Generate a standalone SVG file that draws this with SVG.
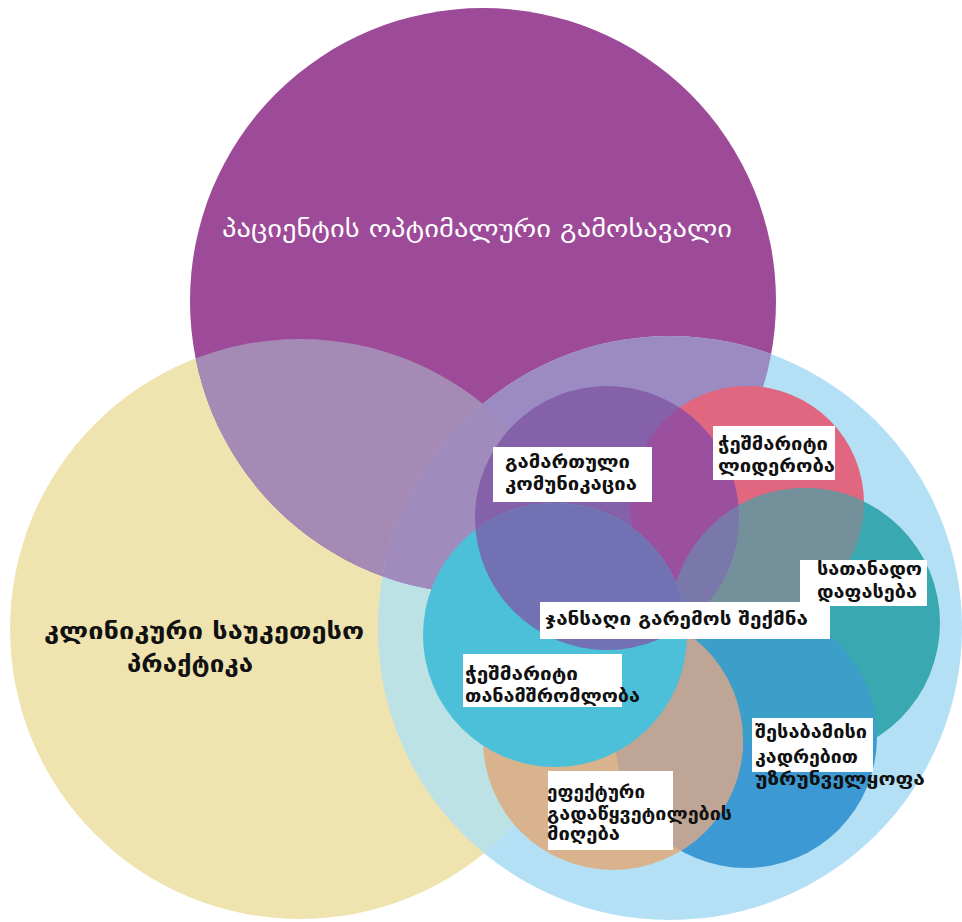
<svg xmlns="http://www.w3.org/2000/svg" width="962" height="922" viewBox="0 0 962 922">
  <defs>
    <style>
      .lbl { font-family: "DejaVu Sans", "Noto Sans Georgian", sans-serif; font-weight: bold; font-size: 17px; fill: #111; }
      .big { font-family: "DejaVu Sans", "Noto Sans Georgian", sans-serif; font-size: 24px; }
      .box { fill: #ffffff; }
    </style>
    <clipPath id="cY"><circle cx="300" cy="629" r="290"/></clipPath>
    <clipPath id="cP"><circle cx="483" cy="301" r="293"/></clipPath>
    <clipPath id="cL"><circle cx="670" cy="628" r="292"/></clipPath>
    <clipPath id="cC1"><circle cx="607" cy="518" r="132"/></clipPath>
    <clipPath id="cC2"><circle cx="747" cy="503" r="117"/></clipPath>
    <clipPath id="cC3"><circle cx="805" cy="623" r="135"/></clipPath>
    <clipPath id="cC4"><circle cx="555" cy="635" r="132"/></clipPath>
    <clipPath id="cC5"><circle cx="746" cy="737" r="131"/></clipPath>
    <clipPath id="cC6"><circle cx="613" cy="740" r="130"/></clipPath>
  </defs>

  <rect width="962" height="922" fill="#ffffff"/>

  <!-- clinical best practice -->
  <g id="practice">
    <circle cx="300" cy="629" r="290" fill="#efe4b0"/>
  </g>

  <!-- optimal patient outcome -->
  <g id="outcome">
    <circle cx="483" cy="301" r="293" fill="#9d4a98"/>
  </g>

  <!-- healthy work environment ring -->
  <g id="environment">
    <circle cx="670" cy="628" r="292" fill="#b4e0f5"/>
  </g>

  <!-- tinted overlaps of the three large circles -->
  <g id="outer-overlaps">
    <circle cx="483" cy="301" r="293" fill="#a58ab5" clip-path="url(#cY)"/>
    <circle cx="670" cy="628" r="292" fill="#bde2e6" clip-path="url(#cY)"/>
    <circle cx="670" cy="628" r="292" fill="#9b8bc2" clip-path="url(#cP)"/>
    <g clip-path="url(#cY)">
      <circle cx="670" cy="628" r="292" fill="#a08bbd" clip-path="url(#cP)"/>
    </g>
  </g>

  <!-- six standards -->
  <g id="leadership"><circle cx="747" cy="503" r="117" fill="#e1667f"/></g>
  <g id="communication"><circle cx="607" cy="518" r="132" fill="#8461a8"/></g>
  <g id="recognition"><circle cx="805" cy="623" r="135" fill="#3aa8b1"/></g>
  <g id="staffing"><circle cx="746" cy="737" r="131" fill="#3c99d3"/></g>
  <g id="decision"><circle cx="613" cy="740" r="130" fill="#d8b38e"/></g>

  <g id="inner-overlaps-a">
    <circle cx="747" cy="503" r="117" fill="#9a4f9f" clip-path="url(#cC1)"/>
    <circle cx="805" cy="623" r="135" fill="#74909b" clip-path="url(#cC2)"/>
    <circle cx="805" cy="623" r="135" fill="#7a78aa" clip-path="url(#cC1)"/>
    <circle cx="746" cy="737" r="131" fill="#3b9fca" clip-path="url(#cC3)"/>
    <circle cx="613" cy="740" r="130" fill="#bfa595" clip-path="url(#cC5)"/>
  </g>

  <g id="collaboration"><circle cx="555" cy="635" r="132" fill="#4bc0d8"/></g>

  <g id="inner-overlaps-b">
    <circle cx="555" cy="635" r="132" fill="#7271b3" clip-path="url(#cC1)"/>
  </g>

  <!-- labels -->
  <g id="labels">
    <g id="label-outcome">
      <text class="big" x="222" y="237" fill="#ffffff" textLength="510" lengthAdjust="spacingAndGlyphs">პაციენტის ოპტიმალური გამოსავალი</text>
    </g>
    <g id="label-practice">
      <text class="big" x="44" y="639" fill="#111" font-weight="bold" textLength="320" lengthAdjust="spacingAndGlyphs">კლინიკური საუკეთესო</text>
      <text class="big" x="127" y="672" fill="#111" font-weight="bold" textLength="126" lengthAdjust="spacingAndGlyphs">პრაქტიკა</text>
    </g>
    <g id="label-communication">
      <rect class="box" x="493" y="447" width="159" height="55"/>
      <text class="lbl" x="505" y="468" textLength="125" lengthAdjust="spacingAndGlyphs">გამართული</text>
      <text class="lbl" x="505" y="490" textLength="132" lengthAdjust="spacingAndGlyphs">კომუნიკაცია</text>
    </g>
    <g id="label-leadership">
      <rect class="box" x="713" y="426" width="122" height="54"/>
      <text class="lbl" x="718" y="450" textLength="110" lengthAdjust="spacingAndGlyphs">ჭეშმარიტი</text>
      <text class="lbl" x="718" y="472" textLength="117" lengthAdjust="spacingAndGlyphs">ლიდერობა</text>
    </g>
    <g id="label-recognition">
      <rect class="box" x="800" y="560" width="127" height="46"/>
      <text class="lbl" x="817" y="575" textLength="105" lengthAdjust="spacingAndGlyphs">სათანადო</text>
      <text class="lbl" x="817" y="598" textLength="100" lengthAdjust="spacingAndGlyphs">დაფასება</text>
    </g>
    <g id="label-environment">
      <rect class="box" x="540" y="602" width="290" height="37"/>
      <text class="lbl" x="545" y="625" textLength="263" lengthAdjust="spacingAndGlyphs">ჯანსაღი გარემოს შექმნა</text>
    </g>
    <g id="label-collaboration">
      <rect class="box" x="463" y="654" width="159" height="53"/>
      <text class="lbl" x="465" y="680" textLength="113" lengthAdjust="spacingAndGlyphs">ჭეშმარიტი</text>
      <text class="lbl" x="465" y="702" textLength="175" lengthAdjust="spacingAndGlyphs">თანამშრომლობა</text>
    </g>
    <g id="label-staffing">
      <rect class="box" x="752" y="718" width="121" height="54"/>
      <text class="lbl" x="755" y="738" textLength="112" lengthAdjust="spacingAndGlyphs">შესაბამისი</text>
      <text class="lbl" x="755" y="763" textLength="103" lengthAdjust="spacingAndGlyphs">კადრებით</text>
      <text class="lbl" x="755" y="785" textLength="170" lengthAdjust="spacingAndGlyphs">უზრუნველყოფა</text>
    </g>
    <g id="label-decision">
      <rect class="box" x="548" y="771" width="125" height="79"/>
      <text class="lbl" x="547" y="798" textLength="98" lengthAdjust="spacingAndGlyphs">ეფექტური</text>
      <text class="lbl" x="547" y="820" textLength="185" lengthAdjust="spacingAndGlyphs">გადაწყვეტილების</text>
      <text class="lbl" x="547" y="840" textLength="73" lengthAdjust="spacingAndGlyphs">მიღება</text>
    </g>
  </g>
</svg>
